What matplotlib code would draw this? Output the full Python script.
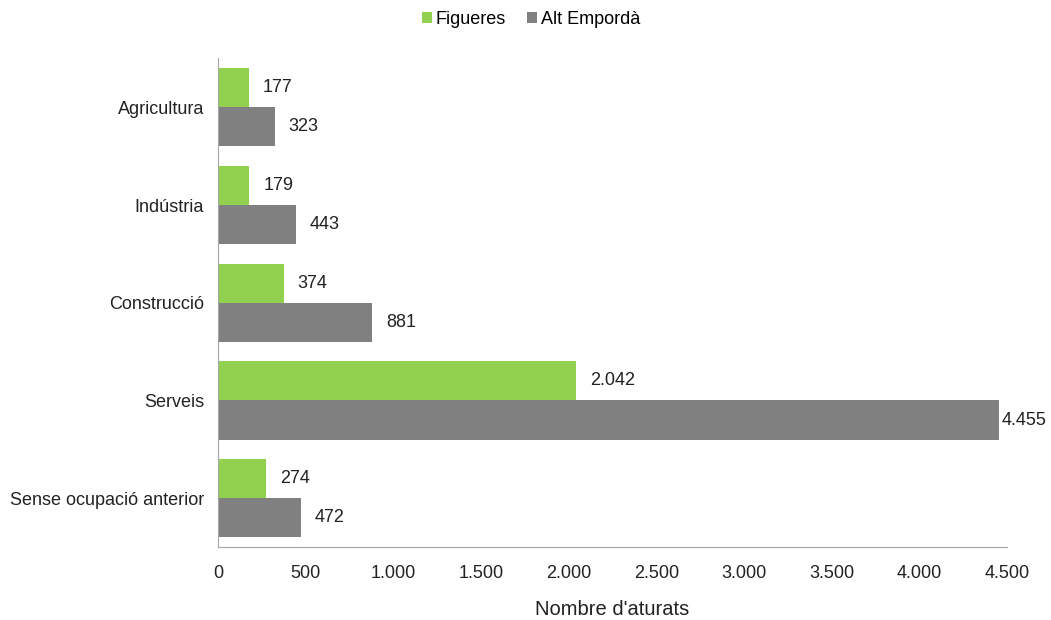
import numpy as np
import matplotlib.pyplot as plt
from matplotlib.ticker import FuncFormatter

plt.rcParams['font.family'] = ['Liberation Sans', 'DejaVu Sans']

# dades
categories = ['Agricultura', 'Indústria', 'Construcció', 'Serveis', 'Sense ocupació anterior']
figueres = [177, 179, 374, 2042, 274]
alt_emporda = [323, 443, 881, 4455, 472]
series_names = ['Figueres', 'Alt Empordà']

def fmt(v):
    return f'{v:,.0f}'.replace(',', '.')

fig = plt.figure(figsize=(10.51, 6.2), dpi=100)
ax = fig.add_axes([0.2074, 0.1177, 0.7506, 0.788])

y = np.arange(len(categories))
h = 0.4
b1 = ax.barh(y - h / 2, figueres, height=h, color='#92D050', label=series_names[0])
b2 = ax.barh(y + h / 2, alt_emporda, height=h, color='#808080', label=series_names[1])

vmax = max(alt_emporda)
for bars in (b1, b2):
    for rect in bars:
        w = rect.get_width()
        pad = 2 if w == vmax else 10
        ax.annotate(fmt(w), (w, rect.get_y() + rect.get_height() / 2),
                    xytext=(pad, 0), textcoords='offset points',
                    va='center', ha='left', fontsize=13, color='#222222',
                    annotation_clip=False)

ax.set_yticks(y)
ax.set_yticklabels(categories)
ax.set_ylim(len(categories) - 0.5, -0.5)
ax.set_xlim(0, 4500)
ax.set_xticks(np.arange(0, 4501, 500))
ax.xaxis.set_major_formatter(FuncFormatter(lambda v, p: fmt(v)))
ax.tick_params(length=0, labelsize=13, colors='#222222')
ax.tick_params(axis='x', pad=13)
ax.tick_params(axis='y', pad=10)
for s in ('top', 'right'):
    ax.spines[s].set_visible(False)
for s in ('left', 'bottom'):
    ax.spines[s].set_color('#A6A6A6')

ax.set_xlabel("Nombre d'aturats", fontsize=14.5, labelpad=13, color='#222222')

fig.legend(loc='upper center', bbox_to_anchor=(0.505, 1.008), ncol=2, frameon=False,
           fontsize=13, handlelength=0.55, handleheight=0.55, handletextpad=0.2,
           columnspacing=1.2)

fig.savefig('out.png', dpi=100)
